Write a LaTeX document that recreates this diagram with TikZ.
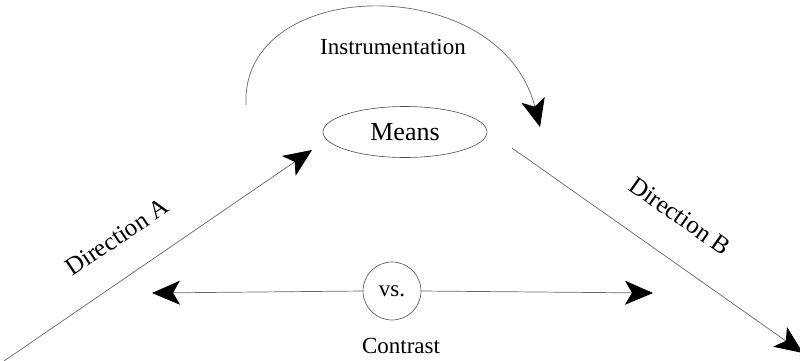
\documentclass[tikz,border=0pt]{standalone}
\usepackage{fontspec}
\setmainfont{Liberation Serif}
\usetikzlibrary{shapes.geometric,arrows.meta}
\begin{document}
\begin{tikzpicture}[x=1pt,y=-1pt,
  lbl/.style={font=\fontsize{23}{27}\selectfont, inner sep=0pt},
  dirlbl/.style={font=\fontsize{25}{29}\selectfont, inner sep=0pt},
  conn/.style={draw=black!60, line width=0.7pt},
  bigtip/.style={-{Stealth[length=28pt,width=24pt,inset=7pt,color=black,fill=black]}}]
\useasboundingbox (0,0) rectangle (800,360);
\node[ellipse, draw=black!70, line width=0.6pt, minimum width=164pt, minimum height=51pt, inner sep=0pt, font=\fontsize{26}{30}\selectfont] (means) at (405,132) {Means};
\node[circle, draw=black!70, line width=0.6pt, minimum size=58pt, inner sep=0pt, lbl] (vs) at (392,291) {vs.};
\node[lbl] (instr) at (393,47) {Instrumentation};
\node[lbl] (contrast) at (401,346) {Contrast};
\node[dirlbl, rotate=34] (dirA) at (117,237) {Direction A};
\node[dirlbl, rotate=-35] (dirB) at (680,216) {Direction B};
\coordinate (a0) at (4,361);
\coordinate (a1) at (312,150);
\coordinate (b0) at (512,148);
\coordinate (b1) at (803,353);
\coordinate (c0) at (246,105);
\coordinate (c1) at (540,127);
\coordinate (l1) at (152,293);
\coordinate (r1) at (653,293);
\draw[conn, bigtip] (a0) -- (a1);
\draw[conn, bigtip] (b0) -- (b1);
\draw[conn, bigtip] (c0) .. controls (240,-25) and (500,-30) .. (c1);
\draw[conn, bigtip] (vs.west) -- (l1);
\draw[conn, bigtip] (vs.east) -- (r1);
\end{tikzpicture}
\end{document}
